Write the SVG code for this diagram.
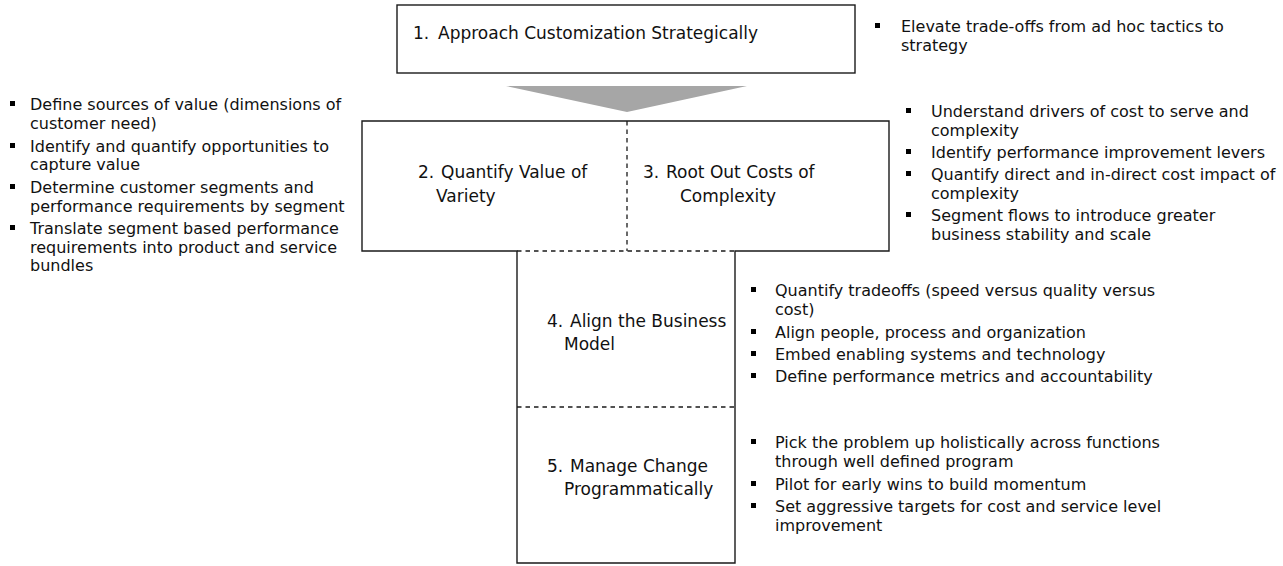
<svg xmlns="http://www.w3.org/2000/svg" width="1283" height="566" viewBox="0 0 1283 566">
<style>
.box{fill:#fff;stroke:#1a1a1a;stroke-width:1.4}
.dash{fill:none;stroke:#1a1a1a;stroke-width:1.3;stroke-dasharray:4.5,4}
.lbl{font-family:"DejaVu Sans","Liberation Sans",sans-serif;font-size:17px;fill:#111}
.bt{font-family:"DejaVu Sans","Liberation Sans",sans-serif;font-size:16px;fill:#111}
.sq{fill:#000}
</style>
<defs>
<rect id="b" class="sq" width="5" height="5"/>
</defs>
<rect width="1283" height="566" fill="#fff"/>

<g id="connectors">
<polygon points="506,86 747,86 627,112" fill="#a6a6a6"/>
</g>

<g id="node1">
<rect class="box" x="397" y="5" width="458" height="68"/>
<text class="lbl" x="413" y="39">1.</text>
<text class="lbl" x="438" y="39">Approach Customization Strategically</text>
</g>

<g id="frame">
<polygon class="box" points="362,121 889,121 889,251 735,251 735,563 517,563 517,251 362,251"/>
<line class="dash" x1="627" y1="121" x2="627" y2="251"/>
<line class="dash" x1="517" y1="251" x2="735" y2="251"/>
<line class="dash" x1="517" y1="407" x2="735" y2="407"/>
</g>

<g id="node2">
<text class="lbl" x="418" y="178">2.</text>
<text class="lbl" x="441" y="178">Quantify Value of</text>
<text class="lbl" x="436" y="202">Variety</text>
</g>

<g id="node3">
<text class="lbl" x="643" y="178">3.</text>
<text class="lbl" x="666" y="178">Root Out Costs of</text>
<text class="lbl" x="680" y="202">Complexity</text>
</g>

<g id="node4">
<text class="lbl" x="547" y="327">4.</text>
<text class="lbl" x="570" y="327">Align the Business</text>
<text class="lbl" x="564" y="350">Model</text>
</g>

<g id="node5">
<text class="lbl" x="547" y="472">5.</text>
<text class="lbl" x="570" y="472">Manage Change</text>
<text class="lbl" x="564" y="495">Programmatically</text>
</g>

<g id="notes1">
<use href="#b" x="875" y="23"/>
<text class="bt" x="901" y="32">Elevate trade-offs from ad hoc tactics to</text>
<text class="bt" x="901" y="51">strategy</text>
</g>

<g id="notes2">
<use href="#b" x="10" y="101"/>
<text class="bt" x="30" y="110">Define sources of value (dimensions of</text>
<text class="bt" x="30" y="128.5">customer need)</text>
<use href="#b" x="10" y="143"/>
<text class="bt" x="30" y="152">Identify and quantify opportunities to</text>
<text class="bt" x="30" y="170">capture value</text>
<use href="#b" x="10" y="184"/>
<text class="bt" x="30" y="193">Determine customer segments and</text>
<text class="bt" x="30" y="211.5">performance requirements by segment</text>
<use href="#b" x="10" y="225"/>
<text class="bt" x="30" y="234">Translate segment based performance</text>
<text class="bt" x="30" y="252.5">requirements into product and service</text>
<text class="bt" x="30" y="271">bundles</text>
</g>

<g id="notes3">
<use href="#b" x="906" y="108"/>
<text class="bt" x="931" y="117">Understand drivers of cost to serve and</text>
<text class="bt" x="931" y="136">complexity</text>
<use href="#b" x="906" y="149"/>
<text class="bt" x="931" y="158">Identify performance improvement levers</text>
<use href="#b" x="906" y="171"/>
<text class="bt" x="931" y="180">Quantify direct and in-direct cost impact of</text>
<text class="bt" x="931" y="199">complexity</text>
<use href="#b" x="906" y="212"/>
<text class="bt" x="931" y="221">Segment flows to introduce greater</text>
<text class="bt" x="931" y="240">business stability and scale</text>
</g>

<g id="notes4">
<use href="#b" x="751" y="287"/>
<text class="bt" x="775" y="296">Quantify tradeoffs (speed versus quality versus</text>
<text class="bt" x="775" y="315">cost)</text>
<use href="#b" x="751" y="329"/>
<text class="bt" x="775" y="338">Align people, process and organization</text>
<use href="#b" x="751" y="351"/>
<text class="bt" x="775" y="360">Embed enabling systems and technology</text>
<use href="#b" x="751" y="373"/>
<text class="bt" x="775" y="382">Define performance metrics and accountability</text>
</g>

<g id="notes5">
<use href="#b" x="751" y="439"/>
<text class="bt" x="775" y="448">Pick the problem up holistically across functions</text>
<text class="bt" x="775" y="467">through well defined program</text>
<use href="#b" x="751" y="481"/>
<text class="bt" x="775" y="490">Pilot for early wins to build momentum</text>
<use href="#b" x="751" y="503"/>
<text class="bt" x="775" y="512">Set aggressive targets for cost and service level</text>
<text class="bt" x="775" y="531">improvement</text>
</g>
</svg>
